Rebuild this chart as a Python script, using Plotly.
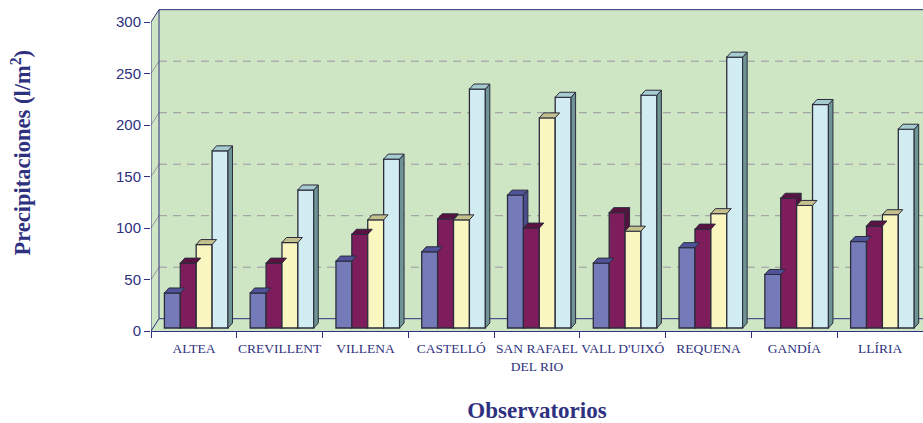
import plotly.graph_objects as go

categories = ["ALTEA", "CREVILLENT", "VILLENA", "CASTELLÓ", "SAN RAFAEL<br>DEL RIO",
              "VALL D'UIXÓ", "REQUENA", "GANDÍA", "LLÍRIA"]
serie_a = [34, 34, 65, 74, 129, 63, 78, 52, 84]
serie_b = [63, 63, 91, 106, 97, 112, 96, 126, 99]
serie_c = [81, 83, 105, 105, 204, 94, 111, 119, 110]
serie_d = [172, 134, 164, 232, 224, 226, 263, 217, 193]
y_ticks = [0, 50, 100, 150, 200, 250, 300]

series = [serie_a, serie_b, serie_c, serie_d]
face = ["#757ab8", "#7e1d5c", "#faf6c0", "#d2edf2"]
cap = ["#4f5399", "#5a1243", "#c4c08e", "#a6cbd0"]
side = ["#4a4e8f", "#560f40", "#b5b284", "#6f9494"]
NAVY = "#2e3180"
OUT = "#2c2c3c"
GREEN = "#cfe6c5"

PX_X = 85.78   # px per category
PX_Y = 1.03    # px per y unit
wall_dx, wall_dy = 8 / PX_X, 12.3 / PX_Y
bar_dx, bar_dy = 4.5 / PX_X, 5 / PX_Y
bar_w = 15.9 / PX_X
start = -29.5 / PX_X
base = 3 / PX_Y
x0, x1 = -0.5, 8.5
ymax = 322 / PX_Y

fig = go.Figure()

for k, vals in enumerate(series):
    fig.add_trace(go.Bar(x=list(range(9)), y=vals, base=base, width=bar_w,
                         offset=start + k * bar_w,
                         marker=dict(color=face[k], line=dict(color=OUT, width=1.3)),
                         cliponaxis=False, showlegend=False))

for k, vals in enumerate(series):
    for i, v in enumerate(vals):
        l = i + start + k * bar_w
        r = l + bar_w
        top = v + base
        low = series[k + 1][i] + base if k < 3 else base
        if low < top:
            fig.add_trace(go.Scatter(
                x=[r, r + bar_dx, r + bar_dx, r, r],
                y=[top, top + bar_dy, low + bar_dy, low, top],
                mode="lines", fill="toself", fillcolor=side[k],
                line=dict(color=OUT, width=1), cliponaxis=False,
                showlegend=False, hoverinfo="skip"))
        fig.add_trace(go.Scatter(
            x=[l, r, r + bar_dx, l + bar_dx, l],
            y=[top, top, top + bar_dy, top + bar_dy, top],
            mode="lines", fill="toself", fillcolor=cap[k],
            line=dict(color=OUT, width=1), cliponaxis=False,
            showlegend=False, hoverinfo="skip"))

def poly(xs, ys):
    return "M" + " L".join(f"{a},{b}" for a, b in zip(xs, ys)) + " Z"

shapes = [
    dict(type="path", layer="below", line=dict(width=0), fillcolor=GREEN, xref="x", yref="y",
         path=poly([x0, x1, x1, x0 + wall_dx, x0 + wall_dx, x0],
                   [0, 0, ymax, ymax, 300 + wall_dy, 300])),
]
for t in y_ticks[1:-1]:
    shapes.append(dict(type="line", layer="below", xref="x", yref="y",
                       x0=x0 + wall_dx, x1=x1, y0=t + wall_dy, y1=t + wall_dy,
                       line=dict(color="#9a94a0", width=1, dash="8px 6px")))
    shapes.append(dict(type="line", layer="below", xref="x", yref="y",
                       x0=x0, x1=x0 + wall_dx, y0=t, y1=t + wall_dy,
                       line=dict(color="#9a94a0", width=1)))
for s in [
    (x0, x0, 0, 300),
    (x0 + wall_dx, x0 + wall_dx, wall_dy, 300 + wall_dy),
    (x0 + wall_dx, x1, 300 + wall_dy, 300 + wall_dy),
    (x0 + wall_dx, x1, wall_dy, wall_dy),
    (x0, x0 + wall_dx, 0, wall_dy),
    (x0, x0 + wall_dx, 300, 300 + wall_dy),
]:
    shapes.append(dict(type="line", layer="below", xref="x", yref="y",
                       x0=s[0], x1=s[1], y0=s[2], y1=s[3],
                       line=dict(color=NAVY, width=1)))

fig.update_layout(
    width=923, height=423, autosize=False,
    margin=dict(l=151, r=0, t=9, b=92),
    paper_bgcolor="white", plot_bgcolor="rgba(0,0,0,0)",
    barmode="overlay", shapes=shapes, showlegend=False,
    xaxis=dict(range=[x0, x1], tickmode="array", tickvals=list(range(9)), ticktext=categories,
               ticks="", showgrid=False, zeroline=False, showline=True, linecolor=NAVY, linewidth=1,
               tickangle=0, ticklabelstandoff=5, automargin=False,
               tickfont=dict(family="Liberation Serif", size=13.5, color=NAVY),
               minor=dict(tickmode="array", tickvals=[i - 0.5 for i in range(10)],
                          ticks="outside", ticklen=6, tickcolor=NAVY, tickwidth=1, showgrid=False),
               title=dict(text="<b>Observatorios</b>", standoff=35,
                          font=dict(family="Liberation Serif", size=23, color=NAVY))),
    yaxis=dict(range=[0, ymax], tickmode="array", tickvals=y_ticks, ticks="outside", ticklen=6,
               tickcolor=NAVY, showgrid=False, zeroline=False, showline=False, automargin=False,
               tickfont=dict(family="Liberation Sans", size=15, color=NAVY)),
    annotations=[dict(text="<b>Precipitaciones (l/m<sup>2</sup>)</b>", textangle=-90,
                      xref="paper", yref="paper", x=-151 / 772 + 20.5 / 772, y=(331 - 153) / 322,
                      xanchor="center", yanchor="middle", showarrow=False,
                      font=dict(family="Liberation Serif", size=22.5, color=NAVY))],
)

fig.write_html("out.html", config={"displayModeBar": False},
               post_script="document.body.style.margin='0';")
